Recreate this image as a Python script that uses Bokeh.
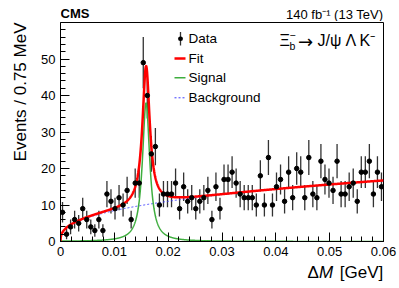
import numpy as np
from bokeh.plotting import figure
from bokeh.layouts import column
from bokeh.models import FixedTicker, Label, Arrow, ColumnDataSource, Title
from bokeh.embed import file_html
from bokeh.resources import INLINE

# ---------------- data ----------------
bin_width = 0.00075  # GeV
counts = [8, 2, 4, 6, 5, 9, 6, 4, 3, 6, 3, 13, 11, 9,
          12, 10, 14, 6, 16, 16, 49, 40, 24, 26, 10, 13, 13, 13,
          16, 9, 15, 11, 12, 9, 11, 12, 14, 6, 15, 9, 17,
          17, 19, 16, 13, 12, 12, 12, 10, 18, 10, 23, 10, 15, 17,
          11, 19, 12, 20, 19, 12, 23, 13, 12, 22, 17, 16, 14,
          22, 13, 13, 15, 16, 11, 19, 19, 22, 13, 19, 15]

# fit parameters
bkg_norm = 48.7
bkg_power = 0.38
sig_peak = 38.0
sig_mass = 0.0159
sig_halfwidth = 0.00082

x_ticks = [0, 0.01, 0.02, 0.03, 0.04, 0.05, 0.06]
y_ticks = [0, 10, 20, 30, 40, 50]

# ---------------- derived ----------------
n = np.array(counts, dtype=float)
xc = (np.arange(len(counts)) + 0.5) * bin_width
err = np.sqrt(n)
src = ColumnDataSource(dict(x=xc, y=n, lo=n - err, hi=n + err))

xg = np.linspace(0, 0.06, 1501)
bkg = bkg_norm * xg ** bkg_power
sig = sig_peak / (1 + ((xg - sig_mass) / sig_halfwidth) ** 2)
fit = bkg + sig

FONT = "Liberation Sans"
W = 398
HEAD_H = 21
MAIN_H = 242
FOOT_H = 24


def blank(h):
    f = figure(width=W, height=h, output_backend="svg", toolbar_location=None,
               x_axis_type=None, y_axis_type=None, min_border=0,
               min_border_left=0, min_border_right=0, min_border_top=0, min_border_bottom=0)
    f.outline_line_color = None
    f.background_fill_color = "white"
    f.border_fill_color = "white"
    f.xgrid.visible = False
    f.ygrid.visible = False
    return f


def lab(fig, text, x, y, size, align="left", baseline="middle", style="normal", font=FONT):
    fig.add_layout(Label(x=x, y=y, x_units="canvas", y_units="canvas", text=text,
                         text_font=font, text_font_size=size, text_align=align,
                         text_baseline=baseline, text_font_style=style, text_color="black"))


# ---------------- header ----------------
head = blank(HEAD_H)
lab(head, "CMS", 60, 12.8, "13px", style="bold")
lab(head, "140 fb\u207b\u00b9 (13 TeV)", 382.7, 13.5, "13px", align="right")

# ---------------- main plot ----------------
p = figure(width=W, height=MAIN_H, output_backend="svg", toolbar_location=None,
           x_range=(0, 0.06), y_range=(0, 60),
           min_border_left=60, min_border_right=15, min_border_top=1, min_border_bottom=22)
p.background_fill_color = "white"
p.border_fill_color = "white"
p.outline_line_color = "black"
p.outline_line_width = 1
p.xgrid.visible = False
p.ygrid.visible = False

p.xaxis.ticker = FixedTicker(ticks=x_ticks, minor_ticks=list(np.round(np.arange(0, 0.0601, 0.002), 4)))
p.yaxis.ticker = FixedTicker(ticks=y_ticks, minor_ticks=list(range(0, 60, 2)))
p.xaxis.major_label_overrides = {0: "0"}
for ax in (p.xaxis, p.yaxis):
    ax.major_tick_in = 9
    ax.major_tick_out = 0
    ax.minor_tick_in = 5
    ax.minor_tick_out = 0
    ax.axis_line_color = "black"
    ax.major_tick_line_color = "black"
    ax.minor_tick_line_color = "black"
    ax.major_label_text_font = FONT
    ax.major_label_text_font_size = "13px"
    ax.major_label_text_color = "black"
p.xaxis.major_label_standoff = 5
p.yaxis.major_label_standoff = 5

p.add_layout(Title(text="Events / 0.75 MeV", align="right", text_font=FONT, text_font_size="17px",
                   text_font_style="normal", text_color="black", standoff=17), "left")

# error bars
p.segment(x0="x", y0="lo", x1="x", y1="hi", source=src, line_color="#333333", line_width=1.3)
# curves
p.line(xg, bkg, line_color="#3c3cff", line_width=1, line_dash="2 2")
p.line(xg, sig, line_color="#3fae3f", line_width=1.5)
p.line(xg, fit, line_color="#ff0000", line_width=2.5)
# data points
p.scatter(x="x", y="y", source=src, size=4.5, color="black")

OFF = HEAD_H  # page -> main-canvas offset

# decay label
lab(p, "\u039e", 279, 40 - OFF, "16px")
lab(p, "b", 289, 45 - OFF, "10.5px")
lab(p, "\u2212", 289, 34 - OFF, "10.5px")
lab(p, "\u2192", 297.5, 40.5 - OFF, "18px", font="DejaVu Sans")
lab(p, "J/\u03c8", 317, 40 - OFF, "16px")
lab(p, "\u039b", 345, 40 - OFF, "16px")
lab(p, "K\u207b", 359, 40 - OFF, "16px")


def seg(x0, y0, x1, y1, color, width, dash="solid", cap="butt"):
    p.add_layout(Arrow(end=None, x_start=x0, y_start=y0 - OFF, x_end=x1, y_end=y1 - OFF,
                       start_units="canvas", end_units="canvas",
                       line_color=color, line_width=width, line_dash=dash, line_cap=cap))


# legend
seg(180, 31.5, 180, 45, "#333333", 1.3)
seg(179.8, 38.3, 180.2, 38.3, "black", 4.5, cap="round")
lab(p, "Data", 188, 38.3 - OFF, "13.5px")
seg(174, 58, 185, 58, "#ff0000", 2.5)
lab(p, "Fit", 188, 58 - OFF, "13.5px")
seg(174, 77.3, 185, 77.3, "#3fae3f", 1.5)
lab(p, "Signal", 188, 77.3 - OFF, "13.5px")
seg(174, 97.3, 185, 97.3, "#3c3cff", 1, dash="2 2")
lab(p, "Background", 188, 97.3 - OFF, "13.5px")

# ---------------- footer (x-axis title) ----------------
foot = blank(FOOT_H)
FOFF = HEAD_H + MAIN_H
lab(foot, "\u0394", 307, 272 - FOFF, "17px")
lab(foot, "M", 318.5, 272 - FOFF, "17px", style="italic")
lab(foot, "[GeV]", 382.7, 272 - FOFF, "17px", align="right")

layout = column(head, p, foot, spacing=0)
open("out.html", "w").write(file_html(layout, INLINE))
